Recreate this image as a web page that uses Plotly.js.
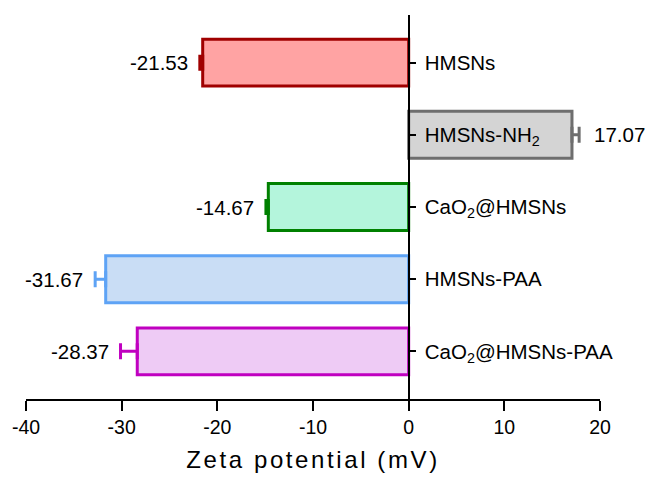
<!DOCTYPE html>
<html>
<head>
<meta charset="utf-8">
<script src="https://cdn.plot.ly/plotly-3.0.1.min.js"></script>
<style>
html,body{margin:0;padding:0;background:#fff;}
#chart{width:649px;height:479px;}
.xtitle{letter-spacing:2.6px;}
</style>
</head>
<body>
<div id="chart"></div>
<script>
const categories = ["HMSNs", "HMSNs-NH<sub>2</sub>", "CaO<sub>2</sub>@HMSNs", "HMSNs-PAA", "CaO<sub>2</sub>@HMSNs-PAA"];
const zetaValues = [-21.53, 17.07, -14.67, -31.67, -28.37];
const zetaErrors = [0.3, 0.75, 0.25, 1.1, 1.75];
const valueLabels = ["-21.53", "17.07", "-14.67", "-31.67", "-28.37"];
const fillColors = ["#FFA3A3", "#D4D4D4", "#B4F5DC", "#C9DDF5", "#EECBF5"];
const lineColors = ["#A00000", "#6E6E6E", "#008000", "#5EA3F5", "#C000C0"];
const xTicks = [-40, -30, -20, -10, 0, 10, 20];

const FONT = "Liberation Sans, Arial, sans-serif";

const traces = categories.map((c, i) => ({
  type: "bar",
  orientation: "h",
  y: [c],
  x: [zetaValues[i]],
  width: 0.65,
  marker: { color: fillColors[i], line: { color: lineColors[i], width: 3 } },
  error_x: {
    type: "data",
    symmetric: false,
    array: [zetaValues[i] > 0 ? zetaErrors[i] : 0],
    arrayminus: [zetaValues[i] < 0 ? zetaErrors[i] : 0],
    color: lineColors[i],
    thickness: 3,
    width: 8
  },
  hoverinfo: "skip",
  showlegend: false
}));

const annotations = categories.map((c, i) => {
  const neg = zetaValues[i] < 0;
  return {
    x: neg ? zetaValues[i] - zetaErrors[i] : zetaValues[i] + zetaErrors[i],
    y: c,
    xref: "x", yref: "y",
    text: valueLabels[i],
    showarrow: false,
    xanchor: neg ? "right" : "left",
    xshift: neg ? -10 : 13,
    font: { family: FONT, size: 20.5, color: "#000" }
  };
});

const layout = {
  width: 649, height: 479,
  margin: { l: 26, r: 49, t: 15, b: 80 },
  paper_bgcolor: "#fff", plot_bgcolor: "#fff",
  barmode: "overlay",
  showlegend: false,
  font: { family: FONT, color: "#000" },
  xaxis: {
    range: [-40, 20],
    tickvals: xTicks,
    ticktext: xTicks.map(String),
    showgrid: false, zeroline: false,
    showline: true, linecolor: "#000", linewidth: 2,
    ticks: "outside", ticklen: 10, tickwidth: 2, tickcolor: "#000",
    tickfont: { family: FONT, size: 19.5, color: "#000" },
    title: { text: "Zeta potential (mV)", font: { family: FONT, size: 24, color: "#000" }, standoff: 14 },
    fixedrange: true
  },
  yaxis: {
    type: "category",
    categoryorder: "array",
    categoryarray: categories,
    range: [4.66, -0.66],
    anchor: "free",
    position: 40 / 60,
    side: "right",
    showgrid: false, zeroline: false,
    showline: true, linecolor: "#000", linewidth: 2,
    ticks: "outside", ticklen: 6, tickwidth: 2, tickcolor: "#000",
    ticklabelstandoff: 5,
    tickfont: { family: FONT, size: 20.5, color: "#000" },
    fixedrange: true
  },
  annotations: annotations
};

Plotly.newPlot("chart", traces, layout, { displayModeBar: false, staticPlot: true });
</script>
</body>
</html>
